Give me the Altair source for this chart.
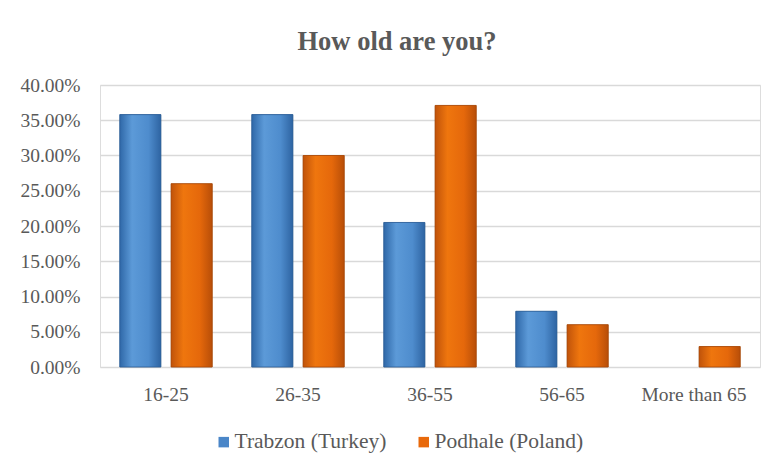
import altair as alt
import pandas as pd

categories = ["16-25", "26-35", "36-55", "56-65", "More than 65"]
series = ["Trabzon (Turkey)", "Podhale (Poland)"]
trabzon = [0.358, 0.358, 0.205, 0.079, 0.0]
podhale = [0.26, 0.30, 0.371, 0.06, 0.029]

rows = []
for c, t, p in zip(categories, trabzon, podhale):
    rows.append({"age": c, "region": series[0], "share": t})
    rows.append({"age": c, "region": series[1], "share": p})
df = pd.DataFrame(rows)

FONT = "Liberation Serif"
GREY = "#595959"

x_enc = alt.X("age:N", sort=categories,
              scale=alt.Scale(domain=categories, paddingInner=0.3, paddingOuter=0.15),
              axis=alt.Axis(title=None, labelAngle=0, domain=False, ticks=False,
                            labelPadding=18, labelFontSize=19.5, labelFont=FONT,
                            labelColor=GREY))
xo_enc = alt.XOffset("region:N", sort=series,
                     scale=alt.Scale(domain=series, paddingInner=0.2, paddingOuter=0))
y_enc = alt.Y("share:Q",
              scale=alt.Scale(domain=[0, 0.4], nice=False),
              axis=alt.Axis(title=None, format=".2%", values=[i * 0.05 for i in range(9)],
                            labelOverlap=False,
                            domain=False, ticks=False, labelPadding=20,
                            labelFontSize=19.5, labelFont=FONT, labelColor=GREY,
                            gridColor="#D9D9D9", gridWidth=1.5))

base = alt.Chart(df).transform_filter(alt.datum.share > 0).mark_bar(
    stroke="#3a3a3a", strokeOpacity=0.25, strokeWidth=0.8).encode(
    x=x_enc, xOffset=xo_enc, y=y_enc,
    color=alt.Color("region:N", sort=series,
                    scale=alt.Scale(domain=series, range=["#4A86C8", "#E8690B"]),
                    legend=alt.Legend(title=None, orient="none", direction="horizontal",
                                      legendX=113, legendY=346, symbolType="square",
                                      symbolSize=110, symbolStrokeWidth=0, padding=0,
                                      labelFontSize=21.5, labelFont=FONT, labelColor=GREY,
                                      columnPadding=26, labelOffset=0)),
)

blue_grad = alt.Gradient(gradient="linear", x1=0, x2=1, y1=0, y2=0, stops=[
    alt.GradientStop(color="#2F68A8", offset=0),
    alt.GradientStop(color="#5C9AD8", offset=0.3),
    alt.GradientStop(color="#4E8CCD", offset=0.7),
    alt.GradientStop(color="#2E64A2", offset=1)])
orange_grad = alt.Gradient(gradient="linear", x1=0, x2=1, y1=0, y2=0, stops=[
    alt.GradientStop(color="#C0530A", offset=0),
    alt.GradientStop(color="#EF760E", offset=0.3),
    alt.GradientStop(color="#E5680B", offset=0.7),
    alt.GradientStop(color="#B84E08", offset=1)])

t_layer = alt.Chart(df).transform_filter(
    (alt.datum.region == series[0]) & (alt.datum.share > 0)).mark_bar(
    fill=blue_grad, stroke="#2B5E98", strokeWidth=0.8).encode(x=x_enc, xOffset=xo_enc, y=y_enc)
p_layer = alt.Chart(df).transform_filter(
    (alt.datum.region == series[1]) & (alt.datum.share > 0)).mark_bar(
    fill=orange_grad, stroke="#A94806", strokeWidth=0.8).encode(x=x_enc, xOffset=xo_enc, y=y_enc)

chart = alt.layer(base, t_layer, p_layer).properties(
    width=660, height=282,
    title=alt.TitleParams("How old are you?", font=FONT, fontSize=26.5, fontWeight="bold",
                          color=GREY, anchor="middle", dx=-33, offset=20),
    autosize=alt.AutoSizeParams(type="none"),
    padding={"left": 92, "top": 77, "right": 7, "bottom": 97},
).configure_view(stroke=None).configure(background="white", font=FONT).configure_legend(
    labelFont=FONT, labelFontSize=21.5, labelColor=GREY)

chart.save("out.html", embed_options={"renderer": "svg", "actions": False})
